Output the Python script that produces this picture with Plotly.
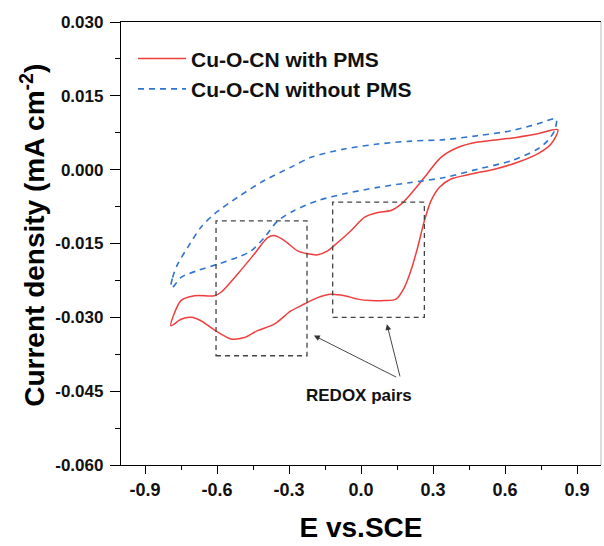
import plotly.graph_objects as go

# Cu-O-CN with PMS (closed CV loop)
red_x = [-0.792, -0.750, -0.694, -0.611, -0.583, -0.514, -0.444, -0.389, -0.361, -0.319,
         -0.264, -0.222, -0.181, -0.139, -0.097, -0.042, 0.014, 0.069, 0.125, 0.167,
         0.208, 0.264, 0.333, 0.403, 0.486, 0.625, 0.736, 0.820,
         0.792, 0.736, 0.653, 0.556, 0.458, 0.375, 0.326, 0.292, 0.264, 0.236,
         0.208, 0.181, 0.146, 0.097, 0.042, -0.014, -0.069, -0.125, -0.181, -0.236,
         -0.292, -0.361, -0.431, -0.486, -0.542, -0.583, -0.625, -0.667, -0.708, -0.750, -0.792]
red_y = [-0.0317, -0.0266, -0.0256, -0.0256, -0.0249, -0.0212, -0.0171, -0.0138, -0.0134, -0.0144,
         -0.0165, -0.0171, -0.0173, -0.0165, -0.0148, -0.0124, -0.0097, -0.0087, -0.0083, -0.0070,
         -0.0049, -0.0016, 0.0025, 0.0045, 0.0056, 0.0064, 0.0073, 0.0081,
         0.0052, 0.0032, 0.0015, 0.0001, -0.0009, -0.0019, -0.0036, -0.0063, -0.0104, -0.0158,
         -0.0205, -0.0239, -0.0263, -0.0266, -0.0266, -0.0263, -0.0256, -0.0253, -0.0260, -0.0273,
         -0.0287, -0.0314, -0.0327, -0.0341, -0.0344, -0.0334, -0.0321, -0.0307, -0.0300, -0.0304, -0.0317]

# Cu-O-CN without PMS (closed CV loop)
blue_x = [-0.792, -0.785, -0.764, -0.722, -0.667, -0.611, -0.514, -0.403, -0.292, -0.208,
          -0.069, 0.069, 0.208, 0.347, 0.486, 0.625, 0.736, 0.813,
          0.806, 0.778, 0.736, 0.625, 0.486, 0.347, 0.208, 0.069, -0.069, -0.181,
          -0.278, -0.347, -0.403, -0.458, -0.514, -0.597, -0.681, -0.750, -0.785, -0.792]
blue_y = [-0.0239, -0.0219, -0.0192, -0.0158, -0.0117, -0.0090, -0.0056, -0.0022, 0.0005, 0.0025,
          0.0042, 0.0052, 0.0058, 0.0061, 0.0069, 0.0079, 0.0093, 0.0103,
          0.0079, 0.0059, 0.0042, 0.0018, 0.0001, -0.0016, -0.0026, -0.0036, -0.0049, -0.0063,
          -0.0083, -0.0104, -0.0138, -0.0165, -0.0178, -0.0192, -0.0205, -0.0219, -0.0239, -0.0239]

# Highlighted redox regions [x0, x1, y0, y1]
box1 = [-0.604, -0.225, -0.0378, -0.0104]
box2 = [-0.118, 0.264, -0.0300, -0.0066]

x_ticks = [-0.9, -0.6, -0.3, 0.0, 0.3, 0.6, 0.9]
y_ticks = [0.030, 0.015, 0.000, -0.015, -0.030, -0.045, -0.060]

FONT = "Liberation Sans, Arial, sans-serif"

fig = go.Figure()
fig.add_trace(go.Scatter(x=red_x, y=red_y, mode="lines", name="<b>Cu-O-CN with PMS</b>",
                         line=dict(color="#EE3E3E", width=1.5, shape="spline", smoothing=0.8)))
fig.add_trace(go.Scatter(x=blue_x, y=blue_y, mode="lines", name="<b>Cu-O-CN without PMS</b>",
                         line=dict(color="#2F74D0", width=1.6, dash="6px,5px", shape="spline", smoothing=0.8)))

for b in (box1, box2):
    fig.add_shape(type="rect", x0=b[0], x1=b[1], y0=b[2], y1=b[3], xref="x", yref="y",
                  line=dict(color="#444444", width=1.3, dash="5px,4px"))

# right frame line (light)
fig.add_shape(type="line", xref="paper", yref="paper", x0=1, x1=1, y0=0, y1=1,
              line=dict(color="#BBBBBB", width=1))

# arrows
fig.add_annotation(x=-0.196, y=-0.0337, ax=0.153, ay=-0.0423, xref="x", yref="y",
                   axref="x", ayref="y", showarrow=True, arrowhead=2, arrowsize=1.3,
                   arrowwidth=0.9, arrowcolor="#333333", text="")
fig.add_annotation(x=0.108, y=-0.0314, ax=0.164, ay=-0.0423, xref="x", yref="y",
                   axref="x", ayref="y", showarrow=False if False else True, arrowhead=2, arrowsize=1.3,
                   arrowwidth=0.9, arrowcolor="#333333", text="")
fig.add_annotation(x=-0.008, y=-0.0458, xref="x", yref="y", showarrow=False,
                   text="<b>REDOX pairs</b>", font=dict(family=FONT, size=17, color="#111111"))

# y axis title placed as rotated text
fig.add_annotation(x=-0.184, y=0.519, xref="paper", yref="paper", showarrow=False,
                   textangle=-90, xanchor="center", yanchor="middle",
                   text="<b>Current density (mA cm<sup>-2</sup>)</b>",
                   font=dict(family=FONT, size=28, color="black"))

fig.update_layout(
    width=604, height=546,
    margin=dict(l=121, r=3, t=22, b=81),
    plot_bgcolor="white", paper_bgcolor="white",
    font=dict(family=FONT, color="black"),
    showlegend=True,
    legend=dict(x=0.025, y=0.963, xanchor="left", yanchor="top", bgcolor="rgba(0,0,0,0)",
                font=dict(family=FONT, size=21, color="#111111"), tracegroupgap=0,
                itemwidth=48),
    xaxis=dict(range=[-1.0, 1.0], tickvals=x_ticks, ticktext=[f"<b>{v:.1f}</b>" for v in x_ticks],
               ticks="outside", ticklen=8, tickwidth=1.3, tickcolor="black",
               minor=dict(ticks="outside", ticklen=4, tickwidth=1.2, dtick=0.15, tick0=0, tickcolor="black"),
               showline=True, linecolor="black", linewidth=1.3, mirror=True,
               showgrid=False, zeroline=False,
               tickfont=dict(family=FONT, size=18, color="#111111"),
               title=dict(text="<b>E vs.SCE</b>", font=dict(family=FONT, size=28, color="black"), standoff=18)),
    yaxis=dict(range=[-0.060, 0.030], tickvals=y_ticks, ticktext=[f"<b>{v:.3f}</b>" for v in y_ticks],
               ticks="outside", ticklen=10, tickwidth=1.3, tickcolor="black",
               ticklabelstandoff=3,
               minor=dict(ticks="outside", ticklen=5, tickwidth=1.2, dtick=0.0075, tick0=0, tickcolor="black"),
               showline=True, linecolor="black", linewidth=1.3, mirror=False,
               showgrid=False, zeroline=False,
               tickfont=dict(family=FONT, size=17, color="#111111")),
)

fig.write_html("out.html")
